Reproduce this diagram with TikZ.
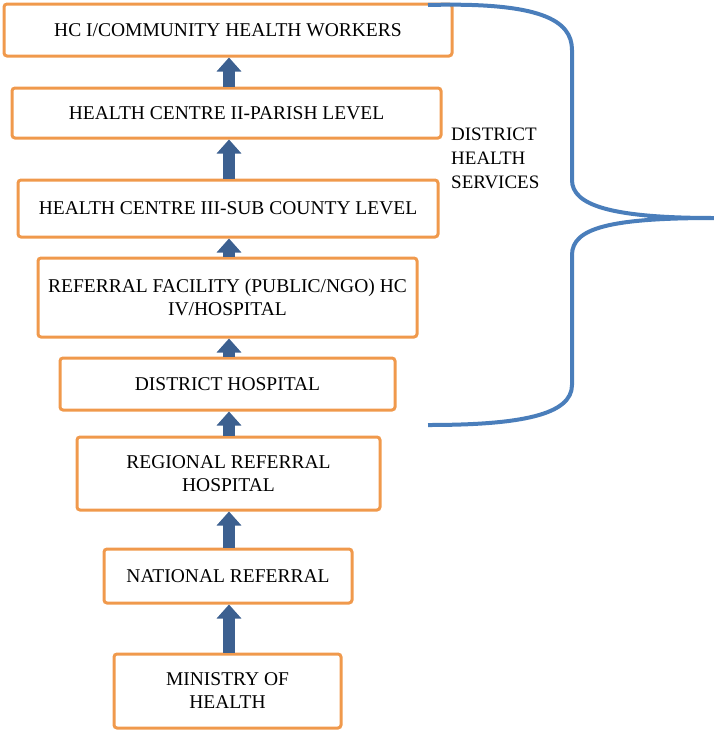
\documentclass[tikz,border=0pt]{standalone}
\usepackage{fontspec}
\setmainfont{Liberation Serif}
\usetikzlibrary{arrows.meta}
\definecolor{org}{HTML}{F0994C}
\definecolor{blu}{HTML}{3C6090}
\definecolor{brc}{HTML}{4A7EBB}
\begin{document}
\begin{tikzpicture}[x=1pt,y=-1pt,
 bx/.style={draw=org,line width=3pt,rounded corners=3pt,align=center,font=\fontsize{19.5}{23}\selectfont,inner sep=0pt},
 up/.style={draw=blu,line width=12pt,-{Triangle[width=24pt,length=14pt]}}]
\useasboundingbox (0,0) rectangle (714,732);
\newcommand\bxat[6]{\node[bx,minimum width=#3-#2,minimum height=#5-#4] (#1) at ({(#2+#3)/2},{(#4+#5)/2}) {#6};}
\bxat{b1}{4}{452}{4}{56}{HC I/COMMUNITY HEALTH WORKERS}
\bxat{b2}{12}{441}{88}{138}{HEALTH CENTRE II-PARISH LEVEL}
\bxat{b3}{18}{438}{180}{237}{HEALTH CENTRE III-SUB COUNTY LEVEL}
\bxat{b4}{38}{417}{258}{337}{REFERRAL FACILITY (PUBLIC/NGO) HC\\IV/HOSPITAL}
\bxat{b5}{60}{395}{358}{410}{DISTRICT HOSPITAL}
\bxat{b6}{77}{380}{437}{510}{REGIONAL REFERRAL\\HOSPITAL}
\bxat{b7}{104}{352}{549}{603}{NATIONAL REFERRAL}
\bxat{b8}{114}{341}{654}{728}{MINISTRY OF\\HEALTH}
\foreach \a/\b in {b2/b1,b3/b2,b4/b3,b5/b4,b6/b5,b7/b6,b8/b7}
 \draw[up] (\a.north -| 229,0) -- (\b.south -| 229,0);
\node[font=\fontsize{19}{24}\selectfont,align=left,anchor=north west,inner sep=0pt] (lbl) at (451,128) {DISTRICT\\HEALTH\\SERVICES};
\coordinate (t) at (428,5); \coordinate (m) at (714,218); \coordinate (bt) at (428,425);
\draw[brc,line width=4pt] (t) .. controls (540,2) and (572,20) .. (572,50) -- (572,180)
  .. controls (572,205) and (610,218) .. (m)
  .. controls (610,218) and (572,228) .. (572,255) -- (572,385)
  .. controls (572,415) and (520,425) .. (bt);
\end{tikzpicture}
\end{document}
